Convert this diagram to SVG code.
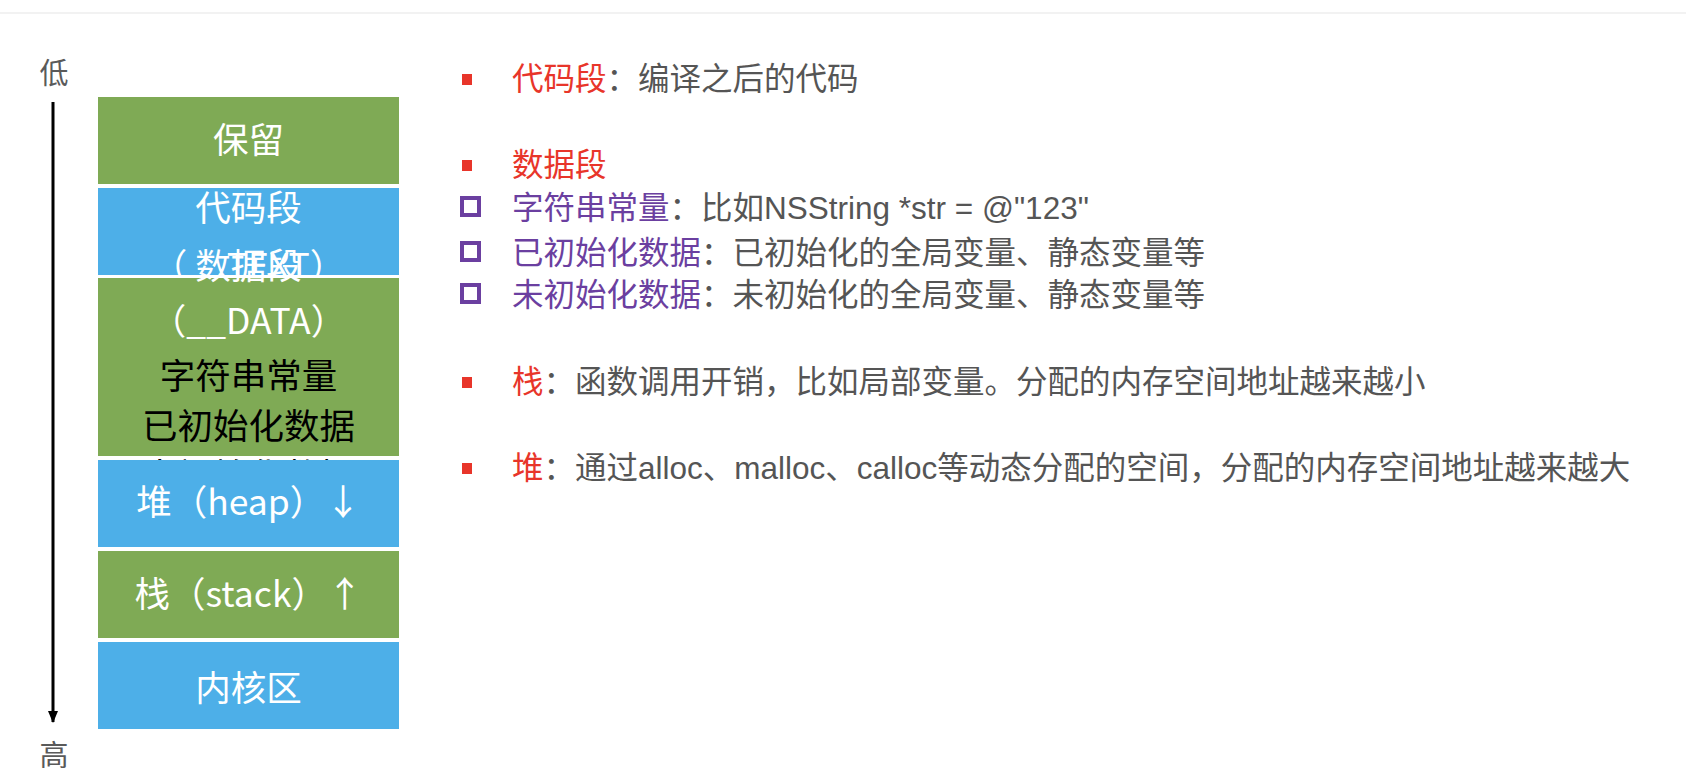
<svg xmlns="http://www.w3.org/2000/svg" width="1686" height="768" viewBox="0 0 1686 768">
<style>
.bg{fill:#ffffff}
.g{fill:#7faa55}
.b{fill:#4dafe8}
.bt{font-family:"Noto Sans CJK SC","Noto Sans",sans-serif;font-size:35.5px;text-anchor:middle}
.w{fill:#ffffff}
.k{fill:#000000}
.axis{font-family:"Noto Sans CJK SC",sans-serif;font-size:29px;fill:#5a5a5a;text-anchor:middle}
.rt{font-family:"Liberation Sans","Noto Sans CJK SC",sans-serif;font-size:31.5px;fill:#555555}
.red{fill:#e8352a}
.pur{fill:#6b3fa0}
.hb{fill:none;stroke:#6b3fa0;stroke-width:4}
</style>
<defs>
<marker id="ah" viewBox="0 0 12 10" refX="11" refY="5" markerWidth="12" markerHeight="10" markerUnits="userSpaceOnUse" orient="auto">
<path d="M0,0 L12,5 L0,10 Z" fill="#000"/>
</marker>
</defs>
<rect class="bg" x="0" y="0" width="1686" height="768"/>
<rect x="0" y="12" width="1686" height="2" fill="#f2f2f2"/>

<g id="axis">
<text class="axis" x="54" y="84">低</text>
<text class="axis" x="54" y="766">高</text>
</g>

<g id="connectors">
<line x1="53" y1="102" x2="53" y2="722" stroke="#000" stroke-width="3" marker-end="url(#ah)"/>
</g>

<g id="node-reserved">
<rect class="g" x="98" y="97" width="301" height="87"/>
<text class="bt w" x="248.5" y="153">保留</text>
</g>
<g id="node-text">
<rect class="b" x="98" y="188" width="301" height="87"/>
<text class="bt w" x="248.5" y="221">代码段</text>
<text class="bt w" x="248.5" y="279">（__TEXT）</text>
</g>
<g id="node-data">
<rect class="g" x="98" y="278" width="301" height="178"/>
<text class="bt w" x="248.5" y="279">数据段</text>
<text class="bt w" x="248.5" y="334">（__DATA）</text>
<text class="bt k" x="248.5" y="389">字符串常量</text>
<text class="bt k" x="248.5" y="439">已初始化数据</text>
<text class="bt k" x="248.5" y="489">未初始化数据</text>
</g>
<g id="node-heap">
<rect class="b" x="98" y="460" width="301" height="87"/>
<text class="bt w" x="248.5" y="515">堆（heap）↓</text>
</g>
<g id="node-stack">
<rect class="g" x="98" y="551" width="301" height="87"/>
<text class="bt w" x="248.5" y="607">栈（stack）↑</text>
</g>
<g id="node-kernel">
<rect class="b" x="98" y="642" width="301" height="87"/>
<text class="bt w" x="248.5" y="701">内核区</text>
</g>

<g id="notes">
<rect class="red" x="462" y="74" width="10" height="11"/>
<text class="rt" x="512" y="90"><tspan class="red">代码段</tspan>：编译之后的代码</text>

<rect class="red" x="462" y="160" width="10" height="11"/>
<text class="rt" x="512" y="176"><tspan class="red">数据段</tspan></text>

<rect class="hb" x="462" y="198" width="17" height="17"/>
<text class="rt" x="512" y="219"><tspan class="pur">字符串常量</tspan>：比如NSString *str = @"123"</text>

<rect class="hb" x="462" y="243" width="17" height="17"/>
<text class="rt" x="512" y="264"><tspan class="pur">已初始化数据</tspan>：已初始化的全局变量、静态变量等</text>

<rect class="hb" x="462" y="285" width="17" height="17"/>
<text class="rt" x="512" y="306"><tspan class="pur">未初始化数据</tspan>：未初始化的全局变量、静态变量等</text>

<rect class="red" x="462" y="377" width="10" height="11"/>
<text class="rt" x="512" y="393"><tspan class="red">栈</tspan>：函数调用开销，比如局部变量。分配的内存空间地址越来越小</text>

<rect class="red" x="462" y="463" width="10" height="11"/>
<text class="rt" x="512" y="479"><tspan class="red">堆</tspan>：通过alloc、malloc、calloc等动态分配的空间，分配的内存空间地址越来越大</text>
</g>
</svg>
